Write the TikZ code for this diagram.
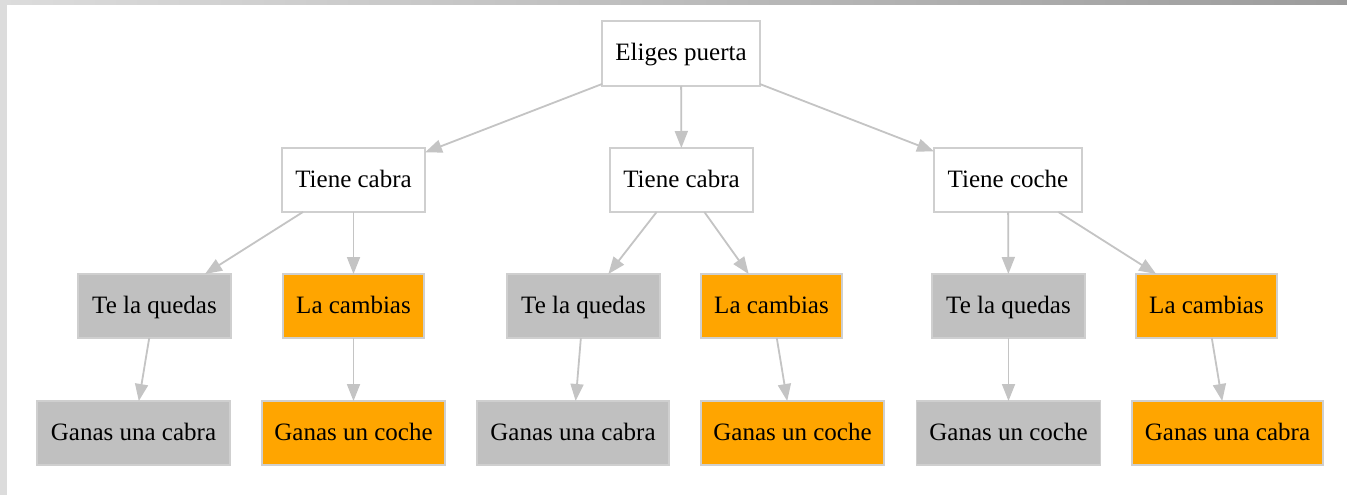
\documentclass[tikz,border=0pt]{standalone}
\usepackage{fontspec}
\setmainfont{Liberation Serif}
\usetikzlibrary{arrows.meta}
\definecolor{edgegray}{HTML}{C4C4C4}
\definecolor{boxline}{HTML}{CFCFCF}
\definecolor{boxgray}{HTML}{C0C0C0}
\definecolor{boxorange}{HTML}{FFA500}
\definecolor{bandlight}{HTML}{DCDCDC}
\definecolor{banddark}{HTML}{9C9C9C}
\tikzset{
  box/.style={draw=boxline, line width=1.6pt, rectangle, inner sep=0pt, outer sep=0pt,
    minimum height=64pt, text height=20pt, text depth=5pt,
    font=\fontsize{25}{29}\selectfont, text=black},
  white box/.style={box, fill=white},
  gray box/.style={box, fill=boxgray},
  orange box/.style={box, fill=boxorange},
  link/.style={draw=edgegray, line width=1.8pt, -{Triangle[length=17pt,width=13pt,fill=edgegray]}}
}
\begin{document}
\begin{tikzpicture}[x=1pt,y=-1pt]
\useasboundingbox (0,0) rectangle (1347,495);
\fill[white] (0,0) rectangle (1347,495);
\shade[left color=bandlight, right color=banddark] (0,0) rectangle (1347,5);
\fill[bandlight] (0,0) rectangle (7,495);
% row 1
\node[white box, minimum width=158pt, minimum height=65pt] (root) at (681,53.5) {Eliges puerta};
% row 2
\node[white box, minimum width=143pt] (tc1) at (353.5,180) {Tiene cabra};
\node[white box, minimum width=143pt] (tc2) at (681.5,180) {Tiene cabra};
\node[white box, minimum width=148pt] (tco) at (1008,180) {Tiene coche};
% row 3
\node[gray box, minimum width=153pt] (tq1) at (154.5,306) {Te la quedas};
\node[orange box, minimum width=141pt] (lc1) at (353.5,306) {La cambias};
\node[gray box, minimum width=153pt] (tq2) at (583.5,306) {Te la quedas};
\node[orange box, minimum width=141pt] (lc2) at (771.5,306) {La cambias};
\node[gray box, minimum width=153pt] (tq3) at (1008.5,306) {Te la quedas};
\node[orange box, minimum width=141pt] (lc3) at (1206.5,306) {La cambias};
% row 4
\node[gray box, minimum width=193pt] (gc1) at (133.5,433) {Ganas una cabra};
\node[orange box, minimum width=183pt] (gco1) at (353.5,433) {Ganas un coche};
\node[gray box, minimum width=192pt] (gc2) at (573,433) {Ganas una cabra};
\node[orange box, minimum width=183pt] (gco2) at (792.5,433) {Ganas un coche};
\node[gray box, minimum width=184pt] (gco3) at (1008.5,433) {Ganas un coche};
\node[orange box, minimum width=191pt] (gc3) at (1227.5,433) {Ganas una cabra};
% edges
\draw[link] (root) -- (tc1);
\draw[link] (root) -- (tc2);
\draw[link] (root) -- (tco);
\draw[link] (tc1) -- (tq1);
\draw[link] (tc1) -- (lc1);
\draw[link] (tc2) -- (tq2);
\draw[link] (tc2) -- (lc2);
\draw[link] (tco) -- (tq3);
\draw[link] (tco) -- (lc3);
\draw[link] (tq1) -- (gc1);
\draw[link] (lc1) -- (gco1);
\draw[link] (tq2) -- (gc2);
\draw[link] (lc2) -- (gco2);
\draw[link] (tq3) -- (gco3);
\draw[link] (lc3) -- (gc3);
\end{tikzpicture}
\end{document}
